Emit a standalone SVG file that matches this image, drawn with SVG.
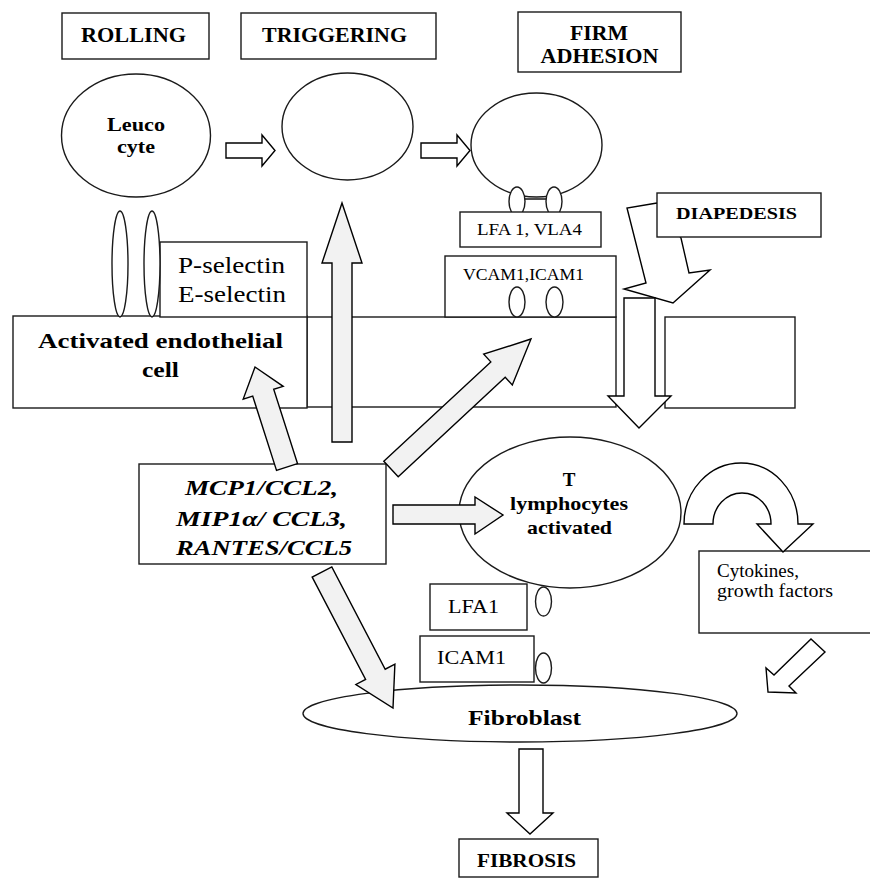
<svg xmlns="http://www.w3.org/2000/svg" width="870" height="879" viewBox="0 0 870 879">
<style>
.b{fill:#fff;stroke:#1a1a1a;stroke-width:1.4}
.g{fill:#f2f2f2;stroke:#000;stroke-width:1.4;stroke-linejoin:miter}
.w{fill:#fff;stroke:#000;stroke-width:1.4}
text{font-family:"Liberation Serif","Times New Roman",serif;fill:#000;text-anchor:middle}
.bd{font-weight:bold}
.bi{font-weight:bold;font-style:italic}
</style>
<rect width="870" height="879" fill="#fff"/>

<g id="rolling"><rect class="b" x="62" y="13" width="147" height="46"/><text class="bd" x="133.5" y="42" font-size="20" textLength="105" lengthAdjust="spacingAndGlyphs">ROLLING</text></g>
<g id="triggering"><rect class="b" x="241" y="13" width="195" height="46"/><text class="bd" x="334.5" y="42" font-size="20" textLength="145" lengthAdjust="spacingAndGlyphs">TRIGGERING</text></g>
<g id="firm-adhesion"><rect class="b" x="518" y="12" width="163" height="60"/><text class="bd" x="599" y="40" font-size="20" textLength="58" lengthAdjust="spacingAndGlyphs">FIRM</text><text class="bd" x="599.5" y="63" font-size="20" textLength="118" lengthAdjust="spacingAndGlyphs">ADHESION</text></g>

<g id="leucocyte"><ellipse class="b" cx="136" cy="135.5" rx="74.5" ry="61.5"/><text class="bd" x="136" y="131" font-size="19" textLength="58" lengthAdjust="spacingAndGlyphs">Leuco</text><text class="bd" x="136" y="153" font-size="19" textLength="38" lengthAdjust="spacingAndGlyphs">cyte</text></g>
<g id="triggering-cell"><ellipse class="b" cx="347.5" cy="126.5" rx="65.5" ry="53.5"/></g>
<g id="adhesion-cell"><ellipse class="b" cx="536.5" cy="145" rx="65.5" ry="52"/>
<line x1="525" y1="199" x2="546" y2="199" stroke="#000" stroke-width="1.4"/>
<ellipse class="b" cx="517" cy="201.5" rx="8" ry="14.5"/><ellipse class="b" cx="554" cy="201.5" rx="8" ry="14.5"/></g>

<g id="lfa-vla"><rect class="b" x="460" y="212" width="141" height="35"/><text x="529.5" y="235" font-size="17" textLength="105" lengthAdjust="spacingAndGlyphs">LFA 1, VLA4</text></g>

<g id="endothelium">
<rect class="b" x="307" y="317" width="309" height="90"/>
<rect class="b" x="13" y="316" width="294" height="92"/>
<rect class="b" x="665" y="317" width="130" height="91"/>
<text class="bd" x="160.5" y="348" font-size="22" textLength="245" lengthAdjust="spacingAndGlyphs">Activated endothelial</text>
<text class="bd" x="160.5" y="377" font-size="22" textLength="37" lengthAdjust="spacingAndGlyphs">cell</text>
</g>
<g id="selectins"><rect class="b" x="160" y="242" width="147" height="75"/>
<text x="231.5" y="273" font-size="23" textLength="107" lengthAdjust="spacingAndGlyphs">P-selectin</text>
<text x="232" y="302" font-size="23" textLength="108" lengthAdjust="spacingAndGlyphs">E-selectin</text>
<ellipse class="b" cx="120" cy="264" rx="8" ry="53"/><ellipse class="b" cx="152" cy="264" rx="8" ry="53"/></g>
<g id="vcam-icam"><rect class="b" x="445" y="256" width="171" height="61"/>
<text x="523.5" y="280" font-size="17" textLength="121" lengthAdjust="spacingAndGlyphs">VCAM1,ICAM1</text>
<ellipse class="b" cx="517" cy="302" rx="8" ry="15"/><ellipse class="b" cx="554.5" cy="302" rx="8.5" ry="15"/></g>

<g id="chemokines"><rect class="b" x="139" y="464" width="247" height="100"/>
<text class="bi" x="261.5" y="495" font-size="22" textLength="153" lengthAdjust="spacingAndGlyphs">MCP1/CCL2,</text>
<text class="bi" x="261.5" y="526" font-size="22" textLength="171" lengthAdjust="spacingAndGlyphs">MIP1α/ CCL3,</text>
<text class="bi" x="264" y="555" font-size="22" textLength="176" lengthAdjust="spacingAndGlyphs">RANTES/CCL5</text></g>

<g id="t-lymphocytes"><ellipse class="b" cx="570" cy="512.5" rx="111" ry="75.5"/>
<text class="bd" x="569" y="486" font-size="19">T</text>
<text class="bd" x="569" y="510" font-size="19" textLength="118" lengthAdjust="spacingAndGlyphs">lymphocytes</text>
<text class="bd" x="569.5" y="534" font-size="19" textLength="85" lengthAdjust="spacingAndGlyphs">activated</text></g>

<g id="cytokines"><rect class="b" x="699" y="551" width="175" height="82"/>
<text x="717" y="577" font-size="18" style="text-anchor:start" textLength="82" lengthAdjust="spacingAndGlyphs">Cytokines,</text>
<text x="717" y="597" font-size="18" style="text-anchor:start" textLength="116" lengthAdjust="spacingAndGlyphs">growth factors</text></g>

<g id="lfa1"><rect class="b" x="430" y="584" width="97" height="46"/><text x="473.5" y="613" font-size="18" textLength="51" lengthAdjust="spacingAndGlyphs">LFA1</text>
<ellipse class="b" cx="543.5" cy="601.5" rx="8" ry="14.5"/></g>
<g id="icam1"><rect class="b" x="420" y="636" width="114" height="46"/><text x="471.5" y="664" font-size="18" textLength="69" lengthAdjust="spacingAndGlyphs">ICAM1</text>
<ellipse class="b" cx="543.5" cy="668" rx="8" ry="15"/></g>

<g id="fibroblast"><ellipse class="b" cx="520" cy="713.5" rx="217" ry="28.5"/>
<text class="bd" x="524.5" y="725" font-size="21" textLength="113" lengthAdjust="spacingAndGlyphs">Fibroblast</text></g>

<g id="fibrosis"><rect class="b" x="459" y="839" width="139" height="38"/>
<text class="bd" x="526.5" y="867" font-size="18" textLength="99" lengthAdjust="spacingAndGlyphs">FIBROSIS</text></g>

<g id="connectors">
<polygon class="w" points="226,143 262,143 262,135 275,150.5 262,166 262,158 226,158"/>
<polygon class="w" points="421,143 457,143 457,135 470,150.5 457,166 457,158 421,158"/>
<polygon class="g" points="332,442 332,263 322,263 342,203 362,263 352,263 352,442"/>
<polygon class="g" points="276.5,470.4 252.7,396.1 243.2,399.1 255,367 283.2,386.3 273.7,389.3 297.5,463.6"/>
<polygon class="g" points="383.8,461.3 490.8,361.9 483.7,354.2 531,339 512.3,385 505.2,377.3 398.2,476.7"/>
<polygon class="g" points="393,505 475,505 475,497 503,515 475,534 475,524 393,524"/>
<polygon class="g" points="312.2,577.1 365.6,679.4 355.9,684.5 393,708 394.9,664.1 385.2,669.2 331.8,566.9"/>
<polygon class="w" points="657,203 627,208 646,283 624,289 673,303 710,270 689,273 681,238"/>
<polygon class="w" points="624,298 655,298 655,396 671,396 639,428 608,396 624,396"/>
<path class="w" d="M684,524 A57,61 0 0 1 798,524 L813,524 L783,552 L757,524 L771,524 A29,31 0 0 0 713,524 Z"/>
<polygon class="w" points="768,692 766,668 774,675 811,639 825,652 789,686 796,693"/>
<polygon class="w" points="519,749 543,749 543,813 553,813 530,834 507,813 519,813"/>
</g>
<g id="diapedesis"><rect class="b" x="657" y="193" width="164" height="44"/>
<text class="bd" x="736.5" y="219" font-size="17" textLength="121" lengthAdjust="spacingAndGlyphs">DIAPEDESIS</text></g>
</svg>
